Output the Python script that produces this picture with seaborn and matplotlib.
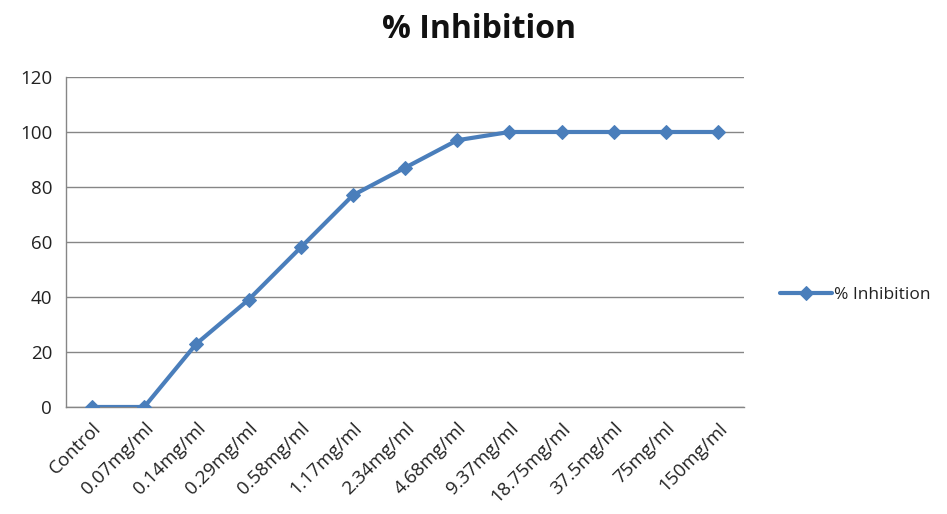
import matplotlib
matplotlib.use("Agg")
import matplotlib.pyplot as plt
import numpy as np
import pandas as pd
import seaborn as sns

doses = ["Control", "0.07mg/ml", "0.14mg/ml", "0.29mg/ml", "0.58mg/ml", "1.17mg/ml",
         "2.34mg/ml", "4.68mg/ml", "9.37mg/ml", "18.75mg/ml", "37.5mg/ml", "75mg/ml", "150mg/ml"]
inhibition = [0, 0, 23, 39, 58, 77, 87, 97, 100, 100, 100, 100, 100]
y_ticks = [0, 20, 40, 60, 80, 100, 120]

df = pd.DataFrame({"pos": np.arange(len(doses)), "dose": doses, "inhibition": inhibition})

sns.set_style("white")
plt.rcParams["font.family"] = ["Open Sans", "DejaVu Sans"]

fig = plt.figure(figsize=(9.47, 5.14), dpi=100)
ax = fig.add_axes([0.0697, 0.2082, 0.716, 0.642])

blue = "#4A7EBB"
grey = "#868686"

sns.lineplot(data=df, x="pos", y="inhibition", ax=ax, color=blue, linewidth=3,
             marker="D", markersize=7.5, markeredgecolor=blue, markerfacecolor=blue,
             label="% Inhibition", sort=False, zorder=3)

ax.set_xlim(-0.5, len(doses) - 0.5)
ax.set_ylim(0, 120)
ax.set_yticks(y_ticks)
ax.set_yticklabels([str(v) for v in y_ticks], fontsize=13.5, color="#222222")
ax.set_xticks(df["pos"])
ax.set_xticklabels(doses, rotation=45, ha="right", rotation_mode="anchor",
                   fontsize=13.5, color="#222222")
ax.set_xticks(np.arange(-0.5, len(doses)), minor=True)
ax.tick_params(axis="x", which="major", length=0, pad=9)
ax.tick_params(axis="x", which="minor", length=5, color=grey, width=1, direction="out")
ax.tick_params(axis="y", length=5, color=grey, width=1, direction="out", pad=5)

ax.yaxis.grid(True, color=grey, linewidth=1)
ax.set_axisbelow(True)
for side in ["top", "right"]:
    ax.spines[side].set_visible(False)
for side in ["left", "bottom"]:
    ax.spines[side].set_color(grey)
    ax.spines[side].set_linewidth(1)

ax.set_xlabel("")
ax.set_ylabel("")

fig.suptitle("% Inhibition", x=0.506, y=0.975, fontsize=23, fontweight="bold", color="#111111")

leg = ax.legend(loc="center left", bbox_to_anchor=(1.043, 0.34), frameon=False,
                fontsize=12.5, handlelength=3.0, handletextpad=0.1, borderaxespad=0)
for t in leg.get_texts():
    t.set_color("#222222")

fig.savefig("out.png", dpi=100)
